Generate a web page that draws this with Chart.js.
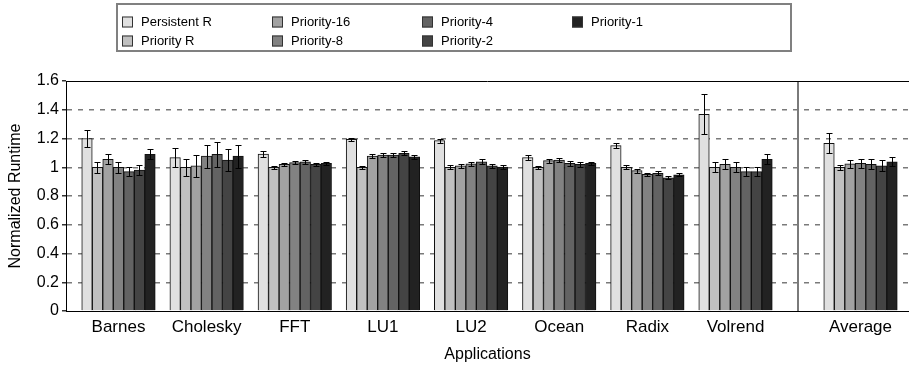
<!DOCTYPE html>
<html>
<head>
<meta charset="utf-8">
<script src="https://cdn.jsdelivr.net/npm/chart.js@4.4.0/dist/chart.umd.min.js"></script>
<style>
  html, body { margin: 0; padding: 0; background: #fff; }
</style>
</head>
<body>
<canvas id="runtime" width="909" height="373"></canvas>
<script>
// applications on the x axis, Average is set apart after the divider
var apps = ['Barnes', 'Cholesky', 'FFT', 'LU1', 'LU2', 'Ocean', 'Radix', 'Volrend', 'Average'];
var seriesNames = ['Persistent R', 'Priority R', 'Priority-16', 'Priority-8', 'Priority-4', 'Priority-2', 'Priority-1'];
var yTicks = [0, 0.2, 0.4, 0.6, 0.8, 1, 1.2, 1.4, 1.6];

// normalized runtime per series
var persistentR = [1.20, 1.067, 1.092, 1.194, 1.185, 1.067, 1.150, 1.368, 1.166];
var priorityR   = [1.00, 1.000, 1.000, 1.000, 1.000, 1.000, 1.000, 1.000, 1.000];
var priority16  = [1.055, 1.010, 1.020, 1.078, 1.010, 1.046, 0.976, 1.020, 1.023];
var priority8   = [1.000, 1.078, 1.032, 1.085, 1.023, 1.050, 0.951, 1.000, 1.027];
var priority4   = [0.970, 1.090, 1.038, 1.085, 1.038, 1.027, 0.958, 0.970, 1.020];
var priority2   = [0.980, 1.050, 1.020, 1.097, 1.010, 1.020, 0.927, 0.970, 1.010];
var priority1   = [1.090, 1.078, 1.027, 1.073, 1.002, 1.027, 0.948, 1.055, 1.038];

// half-height of the error bars
var persistentRErr = [0.056, 0.065, 0.020, 0.012, 0.015, 0.017, 0.017, 0.140, 0.070];
var priorityRErr   = [0.040, 0.060, 0.010, 0.010, 0.015, 0.010, 0.015, 0.035, 0.018];
var priority16Err  = [0.035, 0.078, 0.010, 0.012, 0.015, 0.013, 0.015, 0.035, 0.026];
var priority8Err   = [0.040, 0.080, 0.012, 0.015, 0.015, 0.013, 0.010, 0.035, 0.033];
var priority4Err   = [0.030, 0.085, 0.012, 0.015, 0.017, 0.015, 0.013, 0.033, 0.035];
var priority2Err   = [0.035, 0.077, 0.012, 0.015, 0.015, 0.015, 0.012, 0.033, 0.038];
var priority1Err   = [0.035, 0.080, 0.012, 0.015, 0.015, 0.012, 0.012, 0.035, 0.030];

var values = [persistentR, priorityR, priority16, priority8, priority4, priority2, priority1];
var errors = [persistentRErr, priorityRErr, priority16Err, priority8Err, priority4Err, priority2Err, priority1Err];
var fills = ['#e0e0e0', '#c0c0c0', '#a2a2a2', '#828282', '#636363', '#444444', '#222222'];

// group positions on the linear x scale; Average sits a bit further out
var avgGap = 1.418;
var groupX = apps.map(function (a, i) { return i < apps.length - 1 ? i + 1 : i + avgGap; });
var dividerX = (groupX[apps.length - 2] + groupX[apps.length - 1]) / 2;

var FONT = 'Liberation Sans, Arial, Helvetica, sans-serif';

var errorBars = {
  id: 'errorBars',
  afterDatasetsDraw: function (chart) {
    var ctx = chart.ctx, y = chart.scales.y;
    ctx.save();
    ctx.strokeStyle = '#000';
    ctx.lineWidth = 1;
    chart.data.datasets.forEach(function (ds, di) {
      chart.getDatasetMeta(di).data.forEach(function (bar, i) {
        var v = ds.data[i].y, e = ds.errors[i];
        var x = Math.round(bar.x) + 0.5;
        var top = Math.round(y.getPixelForValue(v + e)) + 0.5;
        var bot = Math.round(y.getPixelForValue(v - e)) + 0.5;
        ctx.beginPath();
        ctx.moveTo(x, top); ctx.lineTo(x, bot);
        ctx.moveTo(x - 3, top); ctx.lineTo(x + 3, top);
        ctx.moveTo(x - 3, bot); ctx.lineTo(x + 3, bot);
        ctx.stroke();
      });
    });
    ctx.restore();
  }
};

// top edge of the plot and the line separating Average
var frame = {
  id: 'frame',
  afterDraw: function (chart) {
    var ctx = chart.ctx, a = chart.chartArea;
    var xd = Math.round(chart.scales.x.getPixelForValue(dividerX));
    ctx.save();
    ctx.strokeStyle = '#7a7a7a';
    ctx.lineWidth = 2;
    ctx.beginPath();
    ctx.moveTo(xd, a.top);
    ctx.lineTo(xd, a.bottom);
    ctx.stroke();
    ctx.strokeStyle = '#000';
    ctx.lineWidth = 1;
    ctx.beginPath();
    ctx.moveTo(a.left, Math.round(a.top) + 0.5);
    ctx.lineTo(a.right, Math.round(a.top) + 0.5);
    ctx.stroke();
    ctx.restore();
  }
};

// boxed legend, filled column by column
var boxLegend = {
  id: 'boxLegend',
  afterDraw: function (chart) {
    var ctx = chart.ctx;
    ctx.save();
    ctx.strokeStyle = '#808080';
    ctx.lineWidth = 2;
    ctx.strokeRect(117, 4, 674, 47);
    ctx.font = '13px ' + FONT;
    ctx.textBaseline = 'middle';
    ctx.fillStyle = '#000';
    chart.data.datasets.forEach(function (ds, i) {
      var col = Math.floor(i / 2), row = i % 2;
      var x = 122 + col * 150, y = 22 + row * 19;
      ctx.fillStyle = ds.backgroundColor;
      ctx.fillRect(x, y - 5.5, 11, 11);
      ctx.strokeStyle = '#333';
      ctx.lineWidth = 1;
      ctx.strokeRect(x + 0.5, y - 5, 10, 10);
      ctx.fillStyle = '#000';
      ctx.fillText(ds.label, x + 19, y);
    });
    ctx.restore();
  }
};

var datasets = seriesNames.map(function (name, s) {
  return {
    label: name,
    data: groupX.map(function (x, i) { return { x: x, y: values[s][i] }; }),
    errors: errors[s],
    backgroundColor: fills[s],
    borderColor: '#111',
    borderWidth: 1,
    barThickness: 10.5
  };
});

new Chart(document.getElementById('runtime').getContext('2d'), {
  type: 'bar',
  data: { datasets: datasets },
  options: {
    responsive: false,
    animation: false,
    devicePixelRatio: 1,
    layout: { padding: { top: 81, left: 0, right: 0, bottom: 0 } },
    plugins: {
      legend: { display: false },
      tooltip: { enabled: false }
    },
    scales: {
      x: {
        type: 'linear',
        offset: false,
        min: 0.4045,
        max: 9.968,
        afterBuildTicks: function (scale) {
          scale.ticks = groupX.map(function (v) { return { value: v }; });
        },
        afterFit: function (scale) { scale.height = 62; },
        grid: { display: false, drawTicks: false },
        border: { color: '#000', width: 1 },
        ticks: {
          autoSkip: false,
          maxRotation: 0,
          padding: 6,
          color: '#000',
          font: { family: FONT, size: 17 },
          callback: function (v, i) { return apps[i]; }
        },
        title: {
          display: true,
          text: 'Applications',
          color: '#000',
          font: { family: FONT, size: 16 },
          padding: { top: 4, bottom: 9 }
        }
      },
      y: {
        min: 0,
        max: 1.6,
        afterBuildTicks: function (scale) {
          scale.ticks = yTicks.map(function (v) { return { value: v }; });
        },
        afterFit: function (scale) { scale.width = 66; },
        border: { color: '#000', width: 1, dash: [5, 6] },
        grid: {
          color: function (c) {
            return (c.tick && (c.tick.value === 0 || c.tick.value > 1.55)) ? 'rgba(0,0,0,0)' : '#7a7a7a';
          },
          lineWidth: 1.5,
          tickLength: 4,
          tickColor: '#333',
          tickBorderDash: []
        },
        ticks: {
          padding: 3,
          color: '#000',
          font: { family: FONT, size: 16 },
          callback: function (v) { return String(+v.toFixed(1)); }
        },
        title: {
          display: true,
          text: 'Normalized Runtime',
          color: '#000',
          font: { family: FONT, size: 16 },
          padding: { top: 6, bottom: 4 }
        }
      }
    }
  },
  plugins: [errorBars, frame, boxLegend]
});
</script>
</body>
</html>
